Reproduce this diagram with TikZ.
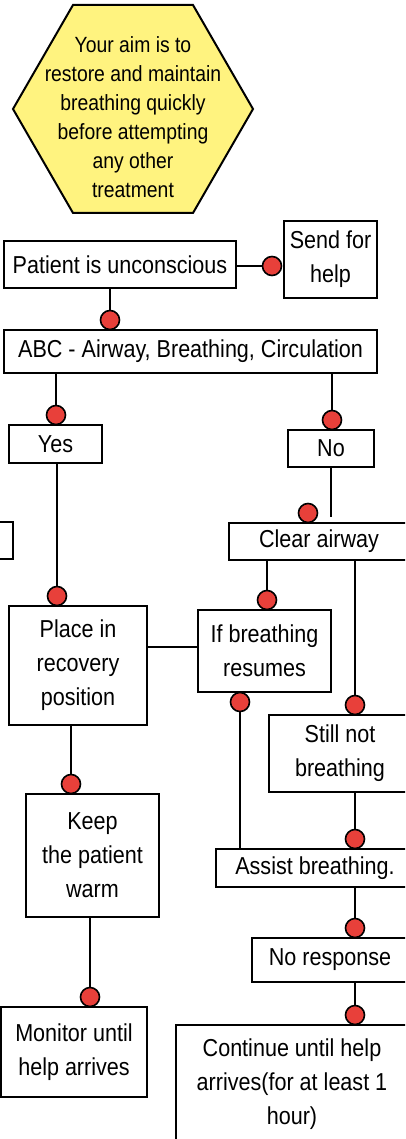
\documentclass[tikz,border=0pt]{standalone}
\usepackage{fontspec}
\setmainfont{Liberation Sans}[FakeStretch=0.88]

\definecolor{aimyellow}{HTML}{FFF37F}
\definecolor{dotred}{HTML}{E8403A}

\tikzset{
    box/.style={draw, line width=2pt, inner sep=0pt, align=center, font=\fontsize{24.5}{34}\selectfont},
    dot/.style={draw, circle, line width=1.6pt, fill=dotred, minimum size=19pt, inner sep=0pt},
}

\begin{document}
\begin{tikzpicture}[x=1pt, y=-1pt, line width=2pt]
            \useasboundingbox (0,0) rectangle (405,1139);
            \clip (0,0) rectangle (405,1139);

            \draw[fill=aimyellow] (73,5) -- (193,5) -- (253,109) -- (193,213) -- (73,213) -- (13,109) -- cycle;
            \node[align=center, font=\fontsize{22}{29}\selectfont] (aim) at (133,117) {Your aim is to\\restore and maintain\\breathing quickly\\before attempting\\any other\\treatment};

            \node[box, minimum width=232pt, minimum height=47pt] (patient) at (120,264.5) {Patient is unconscious};
            \node[box, minimum width=93pt, minimum height=77pt] (sendhelp) at (330.5,259.5) {Send for\\help};
            \node[box, minimum width=373pt, minimum height=43pt] (abc) at (190.5,351.5) {ABC - Airway, Breathing, Circulation};
            \node[box, minimum width=93pt, minimum height=38pt] (yes) at (55.5,444) {Yes};
            \node[box, minimum width=86pt, minimum height=37pt] (no) at (331,448.5) {No};
            \node[box, minimum width=53pt, minimum height=37pt] (hidden) at (-13.5,540.5) {};
            \node[box, minimum width=180pt, minimum height=37pt] (clear) at (319,541.5) {Clear airway};
            \node[box, minimum width=138pt, minimum height=119pt] (place) at (78,665.5) {Place in\\recovery\\position};
            \node[box, minimum width=133pt, minimum height=82pt] (resumes) at (264.5,651) {If breathing\\resumes};
            \node[box, minimum width=142pt, minimum height=77pt] (stillnot) at (340,753.5) {Still not\\breathing};
            \node[box, minimum width=133pt, minimum height=123pt] (warm) at (92.5,855.5) {Keep\\the patient\\warm};
            \node[box, minimum width=198pt, minimum height=38pt] (assist) at (315,868) {Assist breathing.};
            \node[box, minimum width=156pt, minimum height=44pt] (noresponse) at (330,960) {No response};
            \node[box, minimum width=146pt, minimum height=90pt] (monitor) at (74,1052) {Monitor until\\help arrives};
            \node[box, minimum width=232pt, minimum height=118pt] (continue) at (292,1084) {Continue until help\\arrives(for at least 1\\hour)};

            \coordinate (d1) at (272,266);
            \coordinate (d2) at (110,320);
            \coordinate (d3) at (56,415);
            \coordinate (d4) at (332,420);
            \coordinate (d5) at (308,513);
            \coordinate (d6) at (57,596);
            \coordinate (d7) at (267,600);
            \coordinate (d8) at (355,705);
            \coordinate (d9) at (240,702);
            \coordinate (d10) at (71,784);
            \coordinate (d11) at (355,839);
            \coordinate (d12) at (90,997);
            \coordinate (d13) at (355,928);
            \coordinate (d14) at (355,1015);

            \draw (patient.east |- d1) -- (d1);
            \draw (d2 |- patient.south) -- (d2);
            \draw (d3 |- abc.south) -- (d3);
            \draw (d4 |- abc.south) -- (d4);
            \draw (no.south) -- ([yshift=5pt]no.south |- clear.north);
            \draw (d6 |- yes.south) -- (d6);
            \draw (d7 |- clear.south) -- (d7);
            \draw (d8 |- clear.south) -- (d8);
            \draw (place.east |- 0,647) -- (resumes.west |- 0,647);
            \draw (d9) -- (d9 |- assist.north);
            \draw (d10 |- place.south) -- (d10);
            \draw (d11 |- stillnot.south) -- (d11);
            \draw (d12 |- warm.south) -- (d12);
            \draw (d13 |- assist.south) -- (d13);
            \draw (d14 |- noresponse.south) -- (d14);

            \foreach \d in {d1,d2,d3,d4,d5,d6,d7,d8,d9,d10,d11,d12,d13,d14}
                \node[dot] (\d dot) at (\d) {};
\end{tikzpicture}
\end{document}
